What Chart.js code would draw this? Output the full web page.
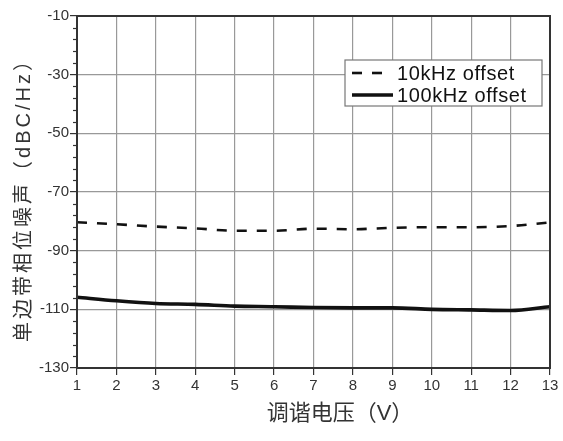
<!DOCTYPE html>
<html>
<head>
<meta charset="utf-8">
<script src="https://cdn.jsdelivr.net/npm/chart.js@4/dist/chart.umd.min.js"></script>
<style>
  html, body { margin: 0; padding: 0; background: #fff; }
  #wrap { width: 563px; height: 441px; }
</style>
</head>
<body>
<div id="wrap"><canvas id="pn"></canvas></div>
<script>
// tuning voltage (V)
const voltage = [1, 2, 3, 4, 5, 6, 7, 8, 9, 10, 11, 12, 13];
// single sideband phase noise, dBc/Hz
const offset10k = [-80.3, -81.0, -81.8, -82.4, -83.2, -83.2, -82.5, -82.7, -82.2, -82.0, -82.0, -81.6, -80.4];
const offset100k = [-105.9, -107.1, -108.0, -108.3, -108.9, -109.1, -109.4, -109.5, -109.5, -110.0, -110.2, -110.4, -109.1];
const seriesNames = ["10kHz offset", "100kHz offset"];
const xTicks = [1, 2, 3, 4, 5, 6, 7, 8, 9, 10, 11, 12, 13];
const yTicks = [-130, -110, -90, -70, -50, -30, -10];
const yMinorStep = 4;

const latin = "'Liberation Sans', Arial, sans-serif";
const cjk = "'Liberation Sans', 'Noto Sans CJK SC', sans-serif";

// frame, minor ticks, axis titles, legend box
const decor = {
  id: "decor",
  afterDraw(chart) {
    const ctx = chart.ctx;
    const a = chart.chartArea;
    const y = chart.scales.y;
    ctx.save();

    // minor ticks on y
    ctx.strokeStyle = "#333";
    ctx.lineWidth = 1.2;
    for (let v = yTicks[0]; v <= yTicks[yTicks.length - 1]; v += yMinorStep) {
      if (yTicks.includes(v)) continue;
      const py = Math.round(y.getPixelForValue(v)) + 0.5;
      ctx.beginPath();
      ctx.moveTo(a.left - 4, py);
      ctx.lineTo(a.left, py);
      ctx.stroke();
    }

    // box
    ctx.strokeStyle = "#333";
    ctx.lineWidth = 2;
    ctx.strokeRect(a.left, a.top, a.right - a.left, a.bottom - a.top);

    // axis titles
    ctx.fillStyle = "#333";
    ctx.font = "20px " + cjk;
    ctx.textAlign = "center";
    ctx.textBaseline = "middle";
    ctx.save();
    ctx.translate(24, 195);
    ctx.rotate(-Math.PI / 2);
    ctx.letterSpacing = "3px";
    ctx.fillText("单边带相位噪声（dBC/Hz）", 0, 0);
    ctx.restore();
    ctx.font = "22px " + cjk;
    ctx.fillText("调谐电压（V）", 340, 414);

    // legend
    const lx = 345, ly = 60, lw = 197, lh = 46;
    ctx.fillStyle = "#fff";
    ctx.fillRect(lx, ly, lw, lh);
    ctx.strokeStyle = "#777";
    ctx.lineWidth = 1.2;
    ctx.strokeRect(lx, ly, lw, lh);
    const rows = [73, 95];
    const sampleEnd = [383, 393];
    chart.data.datasets.forEach((ds, i) => {
      ctx.strokeStyle = ds.borderColor;
      ctx.lineWidth = ds.borderWidth;
      ctx.setLineDash(ds.borderDash || []);
      ctx.beginPath();
      ctx.moveTo(352, rows[i]);
      ctx.lineTo(sampleEnd[i], rows[i]);
      ctx.stroke();
      ctx.setLineDash([]);
      ctx.fillStyle = "#111";
      ctx.font = "20px " + latin;
      ctx.letterSpacing = "0.6px";
      ctx.textAlign = "left";
      ctx.fillText(ds.label, 397, rows[i] + 1);
    });
    ctx.restore();
  }
};

new Chart(document.getElementById("pn"), {
  type: "line",
  data: {
    datasets: [
      {
        label: seriesNames[0],
        data: voltage.map((v, i) => ({ x: v, y: offset10k[i] })),
        borderColor: "#111",
        borderWidth: 2.6,
        borderDash: [10, 10],
        pointRadius: 0,
        cubicInterpolationMode: "monotone"
      },
      {
        label: seriesNames[1],
        data: voltage.map((v, i) => ({ x: v, y: offset100k[i] })),
        borderColor: "#111",
        borderWidth: 3.6,
        pointRadius: 0,
        cubicInterpolationMode: "monotone"
      }
    ]
  },
  options: {
    responsive: true,
    maintainAspectRatio: false,
    animation: false,
    layout: { padding: { top: 16, right: 13, left: 0, bottom: 0 } },
    plugins: { legend: { display: false }, tooltip: { enabled: false } },
    scales: {
      x: {
        type: "linear",
        min: 1,
        max: 13,
        afterBuildTicks: (s) => { s.ticks = xTicks.map(v => ({ value: v })); },
        afterFit: (s) => { s.height = 73; },
        grid: { color: "#999", lineWidth: 1.2, tickLength: 7, tickColor: "#333", drawOnChartArea: true },
        border: { color: "#333", width: 2 },
        ticks: { color: "#333", font: { family: latin, size: 15 }, padding: 2, maxRotation: 0 }
      },
      y: {
        type: "linear",
        min: -130,
        max: -10,
        afterBuildTicks: (s) => { s.ticks = yTicks.map(v => ({ value: v })); },
        afterFit: (s) => { s.width = 77; },
        grid: { color: "#999", lineWidth: 1.2, tickLength: 7, tickColor: "#333" },
        border: { color: "#333", width: 2 },
        ticks: { color: "#333", font: { family: latin, size: 15 }, padding: 1 }
      }
    }
  },
  plugins: [decor]
});
</script>
</body>
</html>
